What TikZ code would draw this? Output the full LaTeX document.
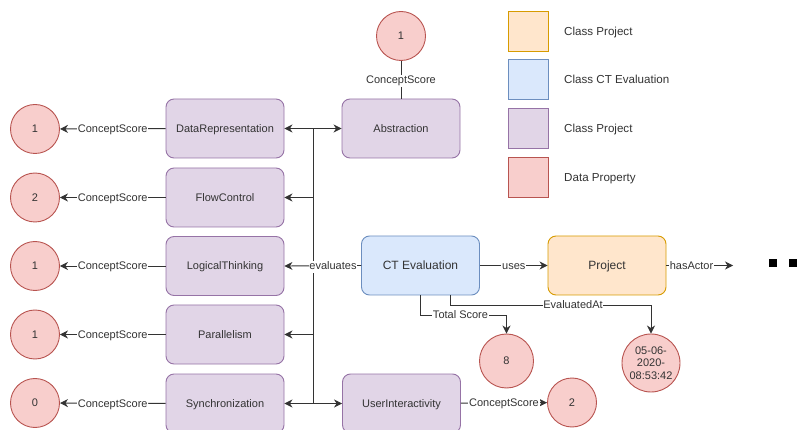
\documentclass[tikz,border=0pt]{standalone}
\usepackage{fontspec}
\setmainfont{Liberation Sans}
\usetikzlibrary{arrows.meta,calc}
\definecolor{purF}{HTML}{E1D5E7}
\definecolor{purS}{HTML}{9673A6}
\definecolor{bluF}{HTML}{DAE8FC}
\definecolor{bluS}{HTML}{6C8EBF}
\definecolor{redF}{HTML}{F8CECC}
\definecolor{redS}{HTML}{B85450}
\definecolor{orgF}{HTML}{FFE6CC}
\definecolor{orgS}{HTML}{D79B00}
\definecolor{txt}{HTML}{333333}
\begin{document}
\begin{tikzpicture}[x=1pt,y=-1pt,
  fnt/.style={font=\fontsize{11}{12}\selectfont, text=txt},
  capc/.style={text height=7.9pt, text depth=0pt},
  capd/.style={text height=8.6pt, text depth=0pt},
  boxbase/.style={rounded corners=8pt, minimum width=118pt, minimum height=59pt, line width=0.9pt, inner sep=0pt},
  cls/.style={boxbase, draw=purS, fill=purF, fnt, capc},
  ctcls/.style={boxbase, draw=bluS, fill=bluF, font=\fontsize{12}{14}\selectfont, text=txt, capd},
  prcls/.style={boxbase, draw=orgS, fill=orgF, font=\fontsize{12}{14}\selectfont, text=txt, capd},
  dp/.style={circle, draw=redS, fill=redF, line width=0.9pt, minimum size=49pt, inner sep=0pt, fnt},
  lbl/.style={fill=white, inner sep=0.8pt, fnt, text height=7.9pt, text depth=2.3pt, yshift=-1.15pt},
  edge/.style={draw=txt, line width=0.9pt},
  arr/.style={edge, -{Stealth[length=8pt,width=8pt,inset=2.5pt]}},
  legsq/.style={minimum size=40pt, line width=0.9pt, inner sep=0pt},
  legtxt/.style={anchor=west, inner sep=0pt, font=\fontsize{11.6}{13}\selectfont, text=txt, text height=8.3pt, text depth=0pt},
  dot/.style={fill=black, minimum size=8pt, inner sep=0pt}
]
\useasboundingbox (0,0) rectangle (806,430);

% legend
\node[legsq, draw=orgS, fill=orgF] (l1) at (528,31) {};
\node[legsq, draw=bluS, fill=bluF] (l2) at (528,79.5) {};
\node[legsq, draw=purS, fill=purF] (l3) at (528,128.5) {};
\node[legsq, draw=redS, fill=redF] (l4) at (528,177.5) {};
\node[legtxt] (t1) at (564,31) {Class Project};
\node[legtxt] (t2) at (564,79.5) {Class CT Evaluation};
\node[legtxt] (t3) at (564,128.5) {Class Project};
\node[legtxt] (t4) at (564,177.5) {Data Property};

% class nodes
\node[cls] (dr) at (225,128.5) {DataRepresentation};
\node[cls] (fc) at (225,197.5) {FlowControl};
\node[cls] (lt) at (225,266) {LogicalThinking};
\node[cls] (pa) at (225,334.5) {Parallelism};
\node[cls] (sy) at (225,403.5) {Synchronization};
\node[cls] (ab) at (401,128.5) {Abstraction};
\node[cls] (ui) at (401.5,403.5) {UserInteractivity};
\node[ctcls] (ct) at (420.5,265.5) {CT Evaluation};
\node[prcls] (pr) at (607,265.5) {Project};

% data properties
\node[dp, capc] (c1) at (35,129) {1};
\node[dp, capc] (c2) at (35,197.5) {2};
\node[dp, capc] (c3) at (35,266) {1};
\node[dp, capc] (c4) at (35,334.5) {1};
\node[dp, capc] (c5) at (35,403) {0};
\node[dp, capc] (cab) at (401,36) {1};
\node[dp, capc, minimum size=54pt] (c8) at (506.5,361) {8};
\node[dp, capc] (cui) at (572,402.5) {2};
\node[dp, minimum size=58pt, align=center, font=\fontsize{11}{12.3}\selectfont] (cdt) at (651,363) {05-06-\\2020-\\08:53:42};

% concept score edges
\draw[arr] (dr) -- node[lbl] (s1) {ConceptScore} (c1);
\draw[arr] (fc) -- node[lbl] (s2) {ConceptScore} (c2);
\draw[arr] (lt) -- node[lbl] (s3) {ConceptScore} (c3);
\draw[arr] (pa) -- node[lbl] (s4) {ConceptScore} (c4);
\draw[arr] (sy) -- node[lbl] (s5) {ConceptScore} (c5);
\draw[edge] (cab) -- node[lbl] (s6) {ConceptScore} (ab);
\draw[arr] (ui) -- node[lbl] (s7) {ConceptScore} (cui);

% evaluates bus
\coordinate (bus) at (313,265.5);
\draw[arr] (ct.west) -- (lt.east);
\draw[arr] (ct.west) -- (bus) |- (fc.east);
\draw[arr] (ct.west) -- (bus) |- (dr.east);
\draw[arr] (ct.west) -- (bus) |- (pa.east);
\draw[arr] (ct.west) -- (bus) |- (sy.east);
\draw[arr] (ct.west) -- (bus) |- (ab.west);
\draw[arr] (ct.west) -- (bus) |- (ui.west);
\node[lbl] (ev) at (333,265.5) {evaluates};

% uses / hasActor
\draw[arr] (ct) -- node[lbl] (us) {uses} (pr);
\coordinate (ha) at (733,265.5);
\draw[arr] (pr.east) -- (ha);
\node[lbl] (hs) at (691.5,265.5) {hasActor};
\node[dot] (d1) at (773,263) {};
\node[dot] (d2) at (793,263) {};

% total score
\coordinate (ts) at (506.5,315);
\draw[arr] (ct.south) |- (ts) -- (c8.north);
\node[lbl] (tsl) at (460.5,315) {Total Score};

% evaluated at
\coordinate (ea0) at (450,295);
\coordinate (ea) at (651,305);
\draw[arr] (ea0) |- (ea) -- (cdt.north);
\node[lbl] (eal) at (573,305) {EvaluatedAt};
\end{tikzpicture}
\end{document}
